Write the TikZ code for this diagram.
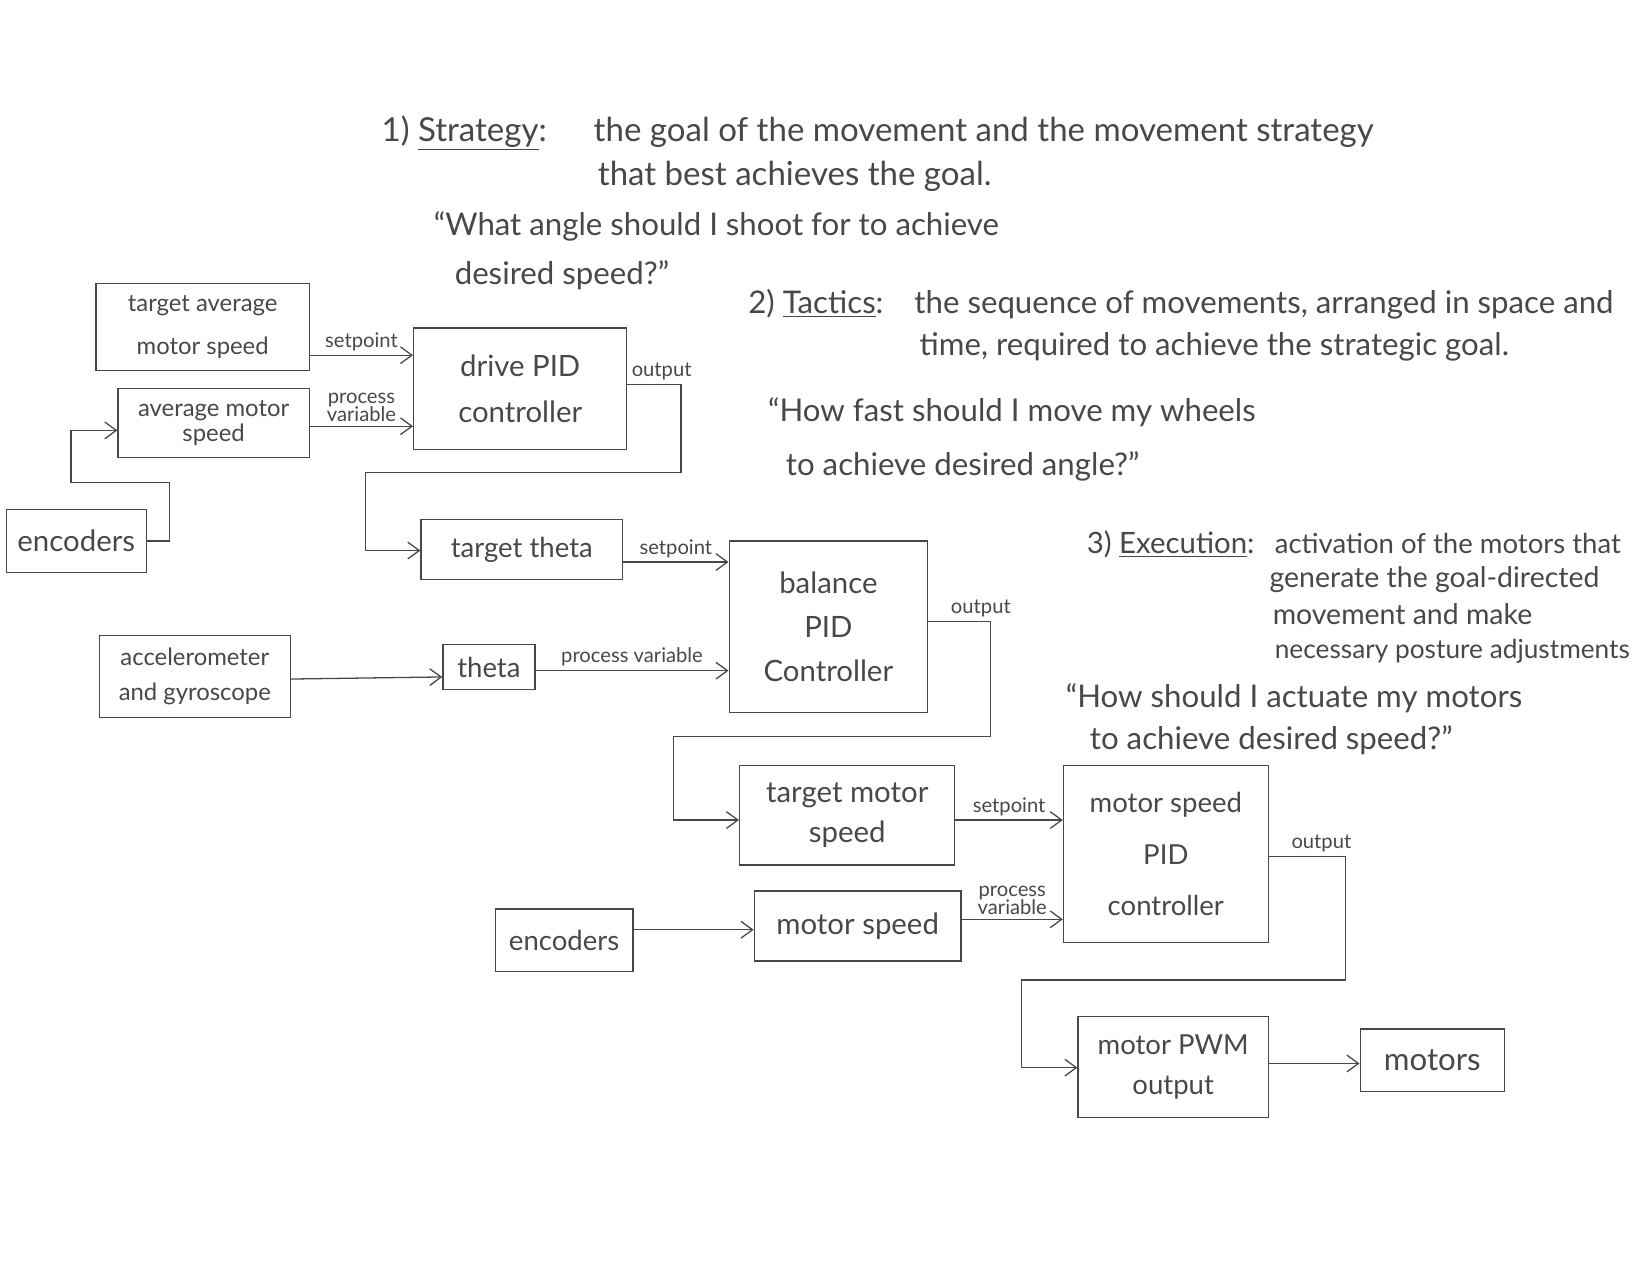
\documentclass[tikz,border=0pt]{standalone}
\usepackage{fontspec}
\setmainfont{Lato}
\usetikzlibrary{arrows.meta}
\definecolor{pencil}{RGB}{72,72,72}

\tikzset{
  blk/.style={draw=pencil, text=pencil, line width=0.7pt, align=center, inner sep=2pt,
    font=\fontsize{15}{22}\selectfont},
  sz/.style 2 args={minimum width=#1*0.2mm, minimum height=#2*0.2mm},
  arr/.style={draw=pencil, line width=0.7pt, -{Straight Barb[length=2.2mm,width=3.2mm]}},
  lbl/.style={text=pencil, inner sep=2pt, align=center, font=\fontsize{11}{11}\selectfont},
  note/.style={text=pencil, anchor=base west, inner sep=0pt, font=\fontsize{17}{19}\selectfont},
}

\begin{document}
\begin{tikzpicture}[x=0.2mm, y=-0.2mm]
  \useasboundingbox (0,0) rectangle (1568,1209);

  % notes
  \node[note, font=\fontsize{18}{20}\selectfont] (s1h) at (365,135) {1) \underline{Strategy}:};
  \node[note, font=\fontsize{18}{20}\selectfont] (s1a) at (568,135) {the goal of the movement and the movement strategy};
  \node[note, font=\fontsize{18}{20}\selectfont] (s1b) at (572,178) {that best achieves the goal.};
  \node[note] (s1c) at (415,225) {“What angle should I shoot for to achieve};
  \node[note] (s1d) at (435,272) {desired speed?”};

  \node[note] (s2h) at (716,300) {2) \underline{Tactics}:};
  \node[note] (s2a) at (875,300) {the sequence of movements, arranged in space and};
  \node[note] (s2b) at (880,340) {time, required to achieve the strategic goal.};
  \node[note] (s2c) at (735,403) {“How fast should I move my wheels};
  \node[note] (s2d) at (752,455) {to achieve desired angle?”};

  \node[note, font=\fontsize{16}{19}\selectfont] (s3h) at (1040,530) {3) \underline{Execution}:};
  \node[note, font=\fontsize{15}{17}\selectfont] (s3a) at (1220,530) {activation of the motors that};
  \node[note, font=\fontsize{15.5}{17}\selectfont] (s3b) at (1215,562) {generate the goal-directed};
  \node[note, font=\fontsize{15.5}{17}\selectfont] (s3c) at (1218,598) {movement and make};
  \node[note, font=\fontsize{14.3}{17}\selectfont] (s3d) at (1220,630) {necessary posture adjustments};
  \node[note] (s3e) at (1020,677) {“How should I actuate my motors};
  \node[note] (s3f) at (1043,717) {to achieve desired speed?”};

  % blocks
  \node[blk, sz={204}{83}, font=\fontsize{13}{23}\selectfont] (tams) at (194,313) {target average\\motor speed};
  \node[blk, sz={183}{66}, font=\fontsize{13}{14}\selectfont] (ams) at (204.5,405) {average motor\\speed};
  \node[blk, sz={204}{116}, font=\fontsize{16}{25}\selectfont] (drive) at (498,372) {drive PID\\controller};
  \node[blk, sz={134}{60}, font=\fontsize{16}{20}\selectfont] (enc1) at (73,518) {encoders};
  \node[blk, sz={193}{58}] (ttheta) at (499.5,526) {target theta};
  \node[blk, sz={190}{164}, font=\fontsize{16}{24}\selectfont] (balance) at (793,600) {balance\\PID\\Controller};
  \node[blk, sz={183}{79}, font=\fontsize{13}{19}\selectfont] (accel) at (186.5,647.5) {accelerometer\\and gyroscope};
  \node[blk, sz={88}{43}] (theta) at (468,638.5) {theta};
  \node[blk, sz={206}{95}, font=\fontsize{16}{22}\selectfont] (tms) at (811,780.5) {target motor\\speed};
  \node[blk, sz={196}{169}, font=\fontsize{15}{28}\selectfont] (mspid) at (1116,817.5) {motor speed\\PID\\controller};
  \node[blk, sz={132}{60}] (enc2) at (540,900) {encoders};
  \node[blk, sz={198}{67}, font=\fontsize{16}{20}\selectfont] (ms) at (821,886.5) {motor speed};
  \node[blk, sz={182}{97}] (pwm) at (1123,1021.5) {motor PWM\\output};
  \node[blk, sz={138}{60}, font=\fontsize{17}{20}\selectfont] (motors) at (1371,1015) {motors};

  % loop corners
  \coordinate (e1a) at (162,462);
  \coordinate (e1b) at (68,462);
  \coordinate (d1) at (652,452);
  \coordinate (d2) at (350,452);
  \coordinate (b1) at (948,705);
  \coordinate (b2) at (645,705);
  \coordinate (m1) at (1288,938);
  \coordinate (m2) at (978,938);

  % drive loop
  \draw[arr] (tams.east |- 0,340) -- node[lbl, above] {setpoint} (drive.west |- 0,340);
  \draw[arr] (ams.east |- 0,408) -- node[lbl, above, font=\fontsize{11}{10}\selectfont] {process\\variable} (drive.west |- 0,408);
  \draw[arr] (enc1.east |- 0,518) -| (e1a) -- (e1b) |- (ams.west |- 0,412);
  \draw[arr] (drive.east |- 0,368) node[lbl, above right] {output} -| (d1) -- (d2) |- (ttheta.west |- 0,527);

  % balance loop
  \draw[arr] (ttheta.east |- 0,538) -- node[lbl, above] {setpoint} (balance.west |- 0,538);
  \draw[arr] (accel.east |- 0,650) -- (theta.west |- 0,648);
  \draw[arr] (theta.east |- 0,642) -- node[lbl, above] {process variable} (balance.west |- 0,642);
  \draw[arr] (balance.east |- 0,595) node[lbl, above right, xshift=10] {output} -| (b1) -- (b2) |- (tms.west |- 0,785);

  % motor speed loop
  \draw[arr] (tms.east |- 0,785) -- node[lbl, above] {setpoint} (mspid.west |- 0,785);
  \draw[arr] (enc2.east |- 0,890) -- (ms.west |- 0,890);
  \draw[arr] (ms.east |- 0,880) -- node[lbl, above, font=\fontsize{11}{10}\selectfont] {process\\variable} (mspid.west |- 0,880);
  \draw[arr] (mspid.east |- 0,820) node[lbl, above right, xshift=10] {output} -| (m1) -- (m2) |- (pwm.west |- 0,1022);
  \draw[arr] (pwm.east |- 0,1018) -- (motors.west |- 0,1018);
\end{tikzpicture}
\end{document}
